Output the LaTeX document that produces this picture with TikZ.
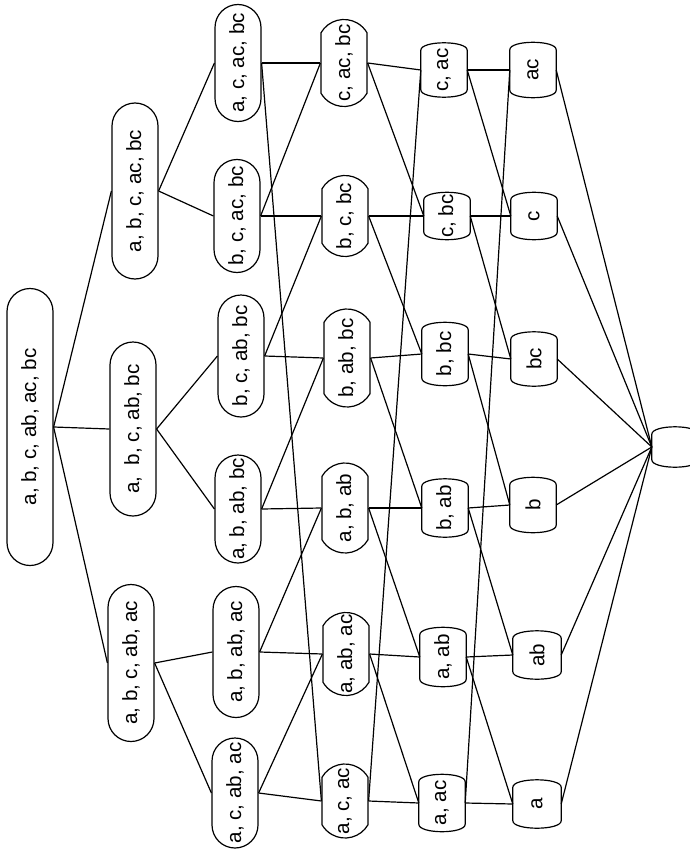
\documentclass[tikz,border=0pt]{standalone}
\usepackage{fontspec}
\setmainfont{Liberation Sans}
\usetikzlibrary{shapes.misc}
\newcommand\lbl[1]{\makebox[0pt]{#1}}
\newcommand\capsule[1]{\draw[ln] (#1.north east)
  .. controls ([yshift=10pt]#1.north east) and ([yshift=10pt]#1.south east) .. (#1.south east)
  -- (#1.south west)
  .. controls ([yshift=-10pt]#1.south west) and ([yshift=-10pt]#1.north west) .. (#1.north west)
  -- cycle;}
\begin{document}
\begin{tikzpicture}[x=1pt,y=-1pt,
  nd/.style={draw, line width=1.2pt, shape=rounded rectangle, rotate=90,
    inner sep=0pt, minimum height=46pt, font=\fontsize{20.6}{24}\selectfont},
  big/.style={rounded rectangle arc length=180},
  mid/.style={rounded rectangle arc length=120},
  sm/.style={shape=rectangle, rotate=90, inner sep=0pt, minimum height=46pt,
    font=\fontsize{20.6}{24}\selectfont},
  ln/.style={line width=1.2pt}]
\useasboundingbox (0,0) rectangle (690,851);
% column 0
\node[nd,big,minimum width=277pt] (r) at (30,427) {\lbl{a, b, c, ab, ac, bc}};
% column 1
\node[nd,big,minimum width=176pt] (p1) at (135,191) {\lbl{a, b, c, ac, bc}};
\node[nd,big,minimum width=174pt] (p2) at (133,429) {\lbl{a,\ \ b, c, ab, bc}};
\node[nd,big,minimum width=157pt] (p3) at (131,663) {\lbl{a, b, c, ab, ac}};
% column 2
\node[nd,big,minimum width=117pt] (q1) at (238,63) {\lbl{a, c, ac, bc}};
\node[nd,big,minimum width=113pt] (q2) at (237,216) {\lbl{b, c, ac, bc}};
\node[nd,big,minimum width=122pt] (q3) at (241,356) {\lbl{b, c, ab, bc}};
\node[nd,big,minimum width=108pt] (q4) at (238,509) {\lbl{a, b, ab, bc}};
\node[nd,big,minimum width=131pt] (q5) at (236,652) {\lbl{a, b, ab, ac}};
\node[nd,big,minimum width=110pt] (q6) at (235,793) {\lbl{a, c, ab, ac}};
% column 3
\node[nd,mid,minimum width=87pt] (s1) at (344,63) {\lbl{c, ac, bc}};
\node[nd,mid,minimum width=81pt] (s2) at (345,216) {\lbl{b, c, bc}};
\node[nd,mid,minimum width=98pt] (s3) at (347,358) {\lbl{b, ab, bc}};
\node[nd,mid,minimum width=90pt] (s4) at (345,508) {\lbl{a, b, ab}};
\node[nd,mid,minimum width=83pt] (s5) at (346,654) {\lbl{a, ab, ac}};
\node[nd,mid,minimum width=74pt] (s6) at (345,801) {\lbl{a, c, ac}};
% column 4
\node[sm,minimum width=39pt] (t1) at (444,70) {\lbl{c, ac}};
\node[sm,minimum width=32pt] (t2) at (447,216) {\lbl{c, bc}};
\node[sm,minimum width=48pt] (t3) at (445,354) {\lbl{b, bc}};
\node[sm,minimum width=43pt] (t4) at (445,508) {\lbl{b, ab}};
\node[sm,minimum width=44pt] (t5) at (443,657) {\lbl{a, ab}};
\node[sm,minimum width=42pt] (t6) at (442,803) {\lbl{a, ac}};
% column 5
\node[sm,minimum width=40pt] (u1) at (533,70) {\lbl{ac}};
\node[sm,minimum width=32pt] (u2) at (534,216) {\lbl{c}};
\node[sm,minimum width=39pt] (u3) at (534,359) {\lbl{bc}};
\node[sm,minimum width=40pt] (u4) at (533,505) {\lbl{b}};
\node[sm,minimum width=33pt,minimum height=48pt] (u5) at (537,655) {\lbl{ab}};
\node[sm,minimum width=33pt,minimum height=48pt] (u6) at (537,804) {\lbl{a}};
% column 6
\node[sm,minimum width=25pt] (e) at (675,447) {\lbl{}};
\foreach \n in {t1,t2,t3,t4,t5,t6,u1,u2,u3,u4,u5,u6,e} {\capsule{\n}}
% edges
\foreach \a/\b in {r/p1,r/p2,r/p3,
  p1/q1,p1/q2,p2/q3,p2/q4,p3/q5,p3/q6,
  q1/s1,q1/s6,q2/s1,q2/s2,q3/s2,q3/s3,q4/s3,q4/s4,q5/s4,q5/s5,q6/s5,q6/s6,
  s1/t1,s1/t2,s2/t2,s2/t3,s3/t3,s3/t4,s4/t4,s4/t5,s5/t5,s5/t6,s6/t6,s6/t1,
  t1/u1,t1/u2,t2/u2,t2/u3,t3/u3,t3/u4,t4/u4,t4/u5,t5/u5,t5/u6,t6/u6,t6/u1,
  u1/e,u2/e,u3/e,u4/e,u5/e,u6/e}
  \draw[ln] (\a.south) -- (\b.north);
\end{tikzpicture}
\end{document}
